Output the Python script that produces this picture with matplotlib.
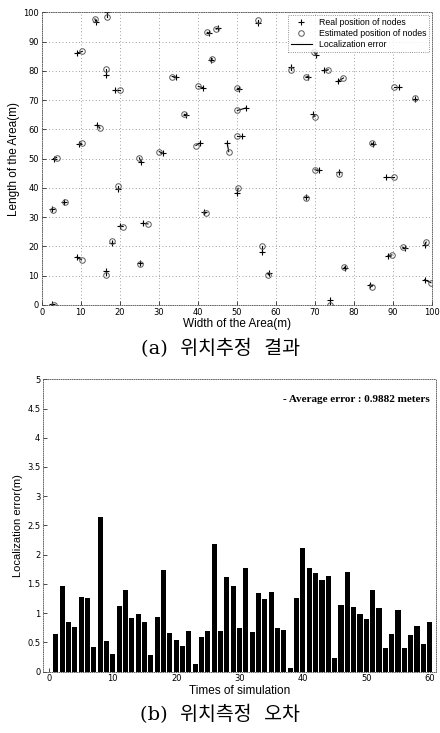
import matplotlib.pyplot as plt
import numpy as np

# node positions (m)
real_x = [13.9, 16.7, 9.1, 16.4, 18.7, 14.2, 9.6, 3.0, 25.5, 31.0, 34.4, 36.9, 41.3, 40.6,
          42.8, 45.2, 43.3, 55.4, 70.2, 63.9, 68.2, 72.4, 75.8, 91.4, 95.7, 50.4, 52.2, 69.6,
          51.4, 47.5, 84.8, 70.9, 76.2, 88.3, 50.1, 67.7, 56.3, 93.0, 98.1, 88.7, 58.3, 77.8,
          84.0, 98.1, 73.9, 2.7, 5.7, 19.5, 20.1, 25.9, 18.1, 8.9, 16.4, 25.2, 2.6, 41.6]
real_y = [96.8, 100.0, 86.1, 78.7, 73.6, 61.6, 55.1, 50.0, 48.7, 51.9, 77.9, 65.0, 74.3, 55.4,
          93.0, 94.6, 83.6, 96.3, 85.5, 81.5, 78.1, 80.2, 76.4, 74.5, 70.3, 74.0, 67.3, 65.2,
          57.6, 55.3, 55.0, 46.0, 45.3, 43.7, 38.4, 36.9, 18.2, 19.4, 20.5, 16.8, 10.8, 12.7,
          6.8, 8.6, 1.7, 32.9, 35.3, 39.6, 27.0, 27.9, 21.1, 16.3, 11.7, 14.2, 0.2, 31.9]
est_x = [13.6, 16.7, 10.4, 16.4, 20.1, 14.9, 10.2, 3.8, 25.0, 30.1, 33.4, 36.5, 40.1, 39.5,
         42.4, 44.7, 43.7, 55.4, 69.8, 63.9, 67.7, 73.4, 77.3, 90.2, 95.7, 50.1, 50.1, 70.0,
         50.1, 47.9, 84.5, 70.0, 76.2, 90.2, 50.3, 67.7, 56.3, 92.5, 98.5, 89.7, 58.0, 77.5,
         84.6, 99.7, 73.9, 2.8, 5.9, 19.5, 20.8, 27.2, 18.1, 10.2, 16.4, 25.2, 3.0, 42.0]
est_y = [97.8, 98.5, 86.7, 80.6, 73.6, 60.4, 55.3, 50.4, 50.3, 52.4, 78.1, 65.2, 74.7, 54.5,
         93.2, 94.3, 84.1, 97.3, 86.5, 80.4, 77.9, 80.4, 77.6, 74.5, 70.6, 74.1, 66.5, 64.4,
         57.6, 52.4, 55.3, 46.2, 44.8, 43.7, 39.9, 36.6, 20.0, 19.7, 21.5, 17.1, 10.3, 12.9,
         6.3, 7.6, 0.0, 32.6, 35.3, 40.7, 26.8, 27.7, 22.0, 15.4, 10.3, 14.0, 0.0, 31.4]

# localization error per simulation run (m)
errors = [0.65, 1.47, 0.85, 0.77, 1.27, 1.26, 0.43, 2.65, 0.53, 0.31,
          1.13, 1.40, 0.91, 0.98, 0.85, 0.28, 0.94, 1.74, 0.66, 0.55,
          0.44, 0.69, 0.14, 0.59, 0.69, 2.19, 0.70, 1.62, 1.46, 0.74,
          1.77, 0.68, 1.35, 1.25, 1.37, 0.75, 0.71, 0.06, 1.26, 2.11,
          1.78, 1.68, 1.57, 1.64, 0.23, 1.14, 1.70, 1.10, 0.98, 0.90,
          1.40, 1.09, 0.41, 0.64, 1.05, 0.40, 0.63, 0.78, 0.48, 0.85]
runs = np.arange(1, len(errors) + 1)

sans = ['Liberation Sans', 'DejaVu Sans']
kor = ['DejaVu Serif', 'Noto Sans CJK KR']

fig = plt.figure(figsize=(4.4, 7.33), dpi=100)

# ---- (a) localization result
ax1 = fig.add_axes([0.095, 0.584, 0.887, 0.399])
for rx, ry, ex, ey in zip(real_x, real_y, est_x, est_y):
    ax1.plot([rx, ex], [ry, ey], color='k', lw=0.8)
ax1.plot(real_x, real_y, '+', color='k', ms=5, mew=0.8, label='Real position of nodes')
ax1.plot(est_x, est_y, 'o', mfc='none', mec='0.35', ms=4, mew=0.7,
         label='Estimated position of nodes')
ax1.plot([], [], color='k', lw=0.8, label='Localization error')
ax1.set_xlim(0, 100)
ax1.set_ylim(0, 100)
ax1.set_xticks(range(0, 101, 10))
ax1.set_yticks(range(0, 101, 10))
ax1.grid(True, linestyle=(0, (1, 3)), color='0.5', lw=0.6)
ax1.tick_params(direction='in', labelsize=6, length=3, width=0.5, pad=2)
ax1.set_xlabel('Width of the Area(m)', fontsize=8.5, family=sans, labelpad=1)
ax1.set_ylabel('Length of the Area(m)', fontsize=8.5, family=sans, labelpad=2)
for s in ax1.spines.values():
    s.set_linewidth(0.6)
    s.set_color('0.3')
    s.set_linestyle(':')
leg = ax1.legend(loc='upper right', frameon=True, fancybox=False,
                 borderpad=0.35, labelspacing=0.2, handlelength=2.4,
                 borderaxespad=0.3, prop={'family': sans, 'size': 6.3})
leg.get_frame().set_edgecolor('0.3')
leg.get_frame().set_linestyle(':')
leg.get_frame().set_linewidth(0.6)

fig.text(0.5, 0.525, '(a)  위치추정  결과', ha='center', va='center',
         fontsize=14, family=kor)

# ---- (b) localization error
ax2 = fig.add_axes([0.098, 0.0836, 0.893, 0.399])
ax2.bar(runs, errors, width=0.8, color='k', edgecolor='none')
ax2.set_xlim(-1, 61)
ax2.set_ylim(0, 5)
ax2.set_xticks(range(0, 61, 10))
ax2.set_yticks(np.arange(0, 5.01, 0.5))
ax2.set_yticklabels(['0', '0.5', '1', '1.5', '2', '2.5', '3', '3.5', '4', '4.5', '5'])
ax2.tick_params(direction='in', labelsize=6, length=3, width=0.5, pad=2)
ax2.set_xlabel('Times of simulation', fontsize=8.5, family=sans, labelpad=1)
ax2.set_ylabel('Localization error(m)', fontsize=8, family=sans, labelpad=3)
for s in ax2.spines.values():
    s.set_linewidth(0.6)
    s.set_color('0.3')
    s.set_linestyle(':')
ax2.text(0.985, 0.93, '- Average error : 0.9882 meters', transform=ax2.transAxes,
         ha='right', va='center', fontsize=8, fontweight='bold',
         family=['Liberation Serif', 'DejaVu Serif'])

fig.text(0.5, 0.025, '(b)  위치측정  오차', ha='center', va='center',
         fontsize=14, family=kor)

fig.savefig('out.png', dpi=100)
